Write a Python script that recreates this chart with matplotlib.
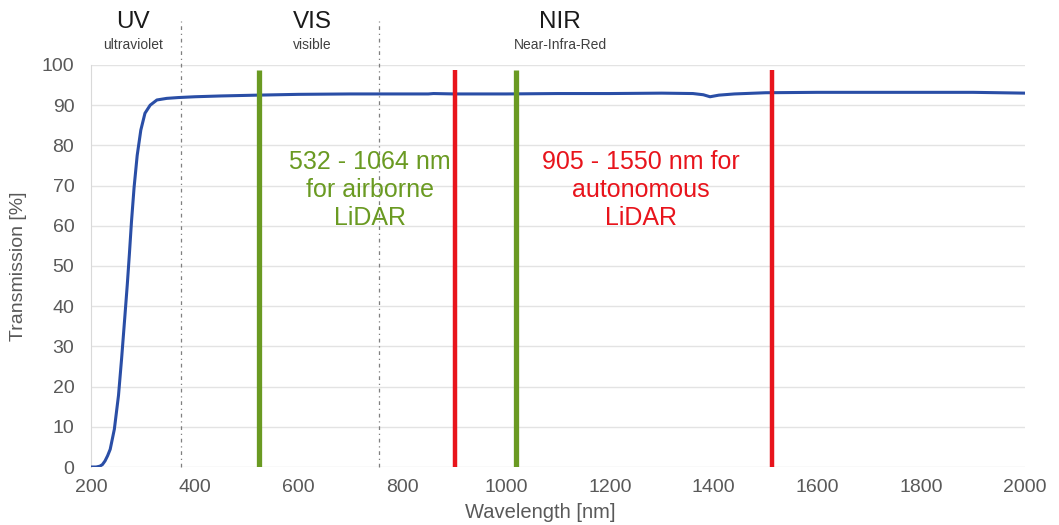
import matplotlib
matplotlib.use("Agg")
import matplotlib.pyplot as plt

plt.rcParams['font.family'] = ['Liberation Sans', 'DejaVu Sans']

# Transmission curve
wavelength = [200, 210, 217, 222, 227, 232, 237, 245, 253, 259, 265, 270, 274, 278, 283, 289,
              296, 304, 314, 327, 346, 368, 400, 450, 520, 600, 700, 800, 850, 860, 900, 1000,
              1100, 1200, 1300, 1360, 1380, 1393, 1410, 1440, 1500, 1600, 1700, 1800, 1900, 2000]
transmission = [0.0, 0.0, 0.2, 0.6, 1.5, 2.8, 4.4, 9.4, 17.8, 27.0, 37.0, 45.5, 53.0, 61.0,
                69.5, 77.5, 83.8, 88.0, 90.0, 91.3, 91.7, 91.9, 92.1, 92.3, 92.5, 92.7, 92.8,
                92.8, 92.8, 92.9, 92.8, 92.8, 92.9, 92.9, 93.0, 92.9, 92.6, 92.1, 92.5, 92.8,
                93.1, 93.2, 93.2, 93.2, 93.2, 93.0]

region_bounds = [373, 755]
green_lines = [523, 1019]
red_lines = [901, 1512]
line_top = 98.8

regions = [("UV", "ultraviolet", 133), ("VIS", "visible", 312), ("NIR", "Near-Infra-Red", 560)]

xticks = [200, 400, 600, 800, 1000, 1200, 1400, 1600, 1800, 2000]
yticks = [0, 10, 20, 30, 40, 50, 60, 70, 80, 90, 100]

fig = plt.figure(figsize=(10.59, 5.25), dpi=100)
ax = fig.add_axes([91/1059, 1-467/525, (1025-91)/1059, (467-65)/525])

ax.set_xlim(200, 2000)
ax.set_ylim(0, 100)
ax.set_xticks(xticks)
ax.set_yticks(yticks)
ax.grid(axis='y', color='#e3e3e3', linewidth=1.0)
ax.set_axisbelow(True)
for s in ['top', 'right', 'bottom']:
    ax.spines[s].set_visible(False)
ax.spines['left'].set_color('#d9d9d9')
ax.tick_params(length=0, labelsize=14, colors='#595959')
ax.tick_params(axis='y', pad=12)
ax.tick_params(axis='x', pad=9)

# dotted region separators
for xb in region_bounds:
    ax.plot([xb, xb], [0, 111], color='#7f7f7f', linestyle=(0, (3, 3, 1, 3)),
            linewidth=0.9, clip_on=False, zorder=1)

ax.plot(wavelength, transmission, color='#2a4ea6', linewidth=2.2, zorder=3)

for xg in green_lines:
    ax.plot([xg, xg], [0, line_top], color='#6a9a22', linewidth=3.8, zorder=4,
            solid_capstyle='butt')
for xr in red_lines:
    ax.plot([xr, xr], [0, line_top], color='#e8141c', linewidth=3.2, zorder=4,
            solid_capstyle='butt')

ax.text(738, 68.9, "532 - 1064 nm\nfor airborne\nLiDAR", color='#6a9a22', fontsize=18,
        ha='center', va='center', linespacing=1.2, zorder=5)
ax.text(1260, 68.9, "905 - 1550 nm for\nautonomous\nLiDAR", color='#e8141c', fontsize=18,
        ha='center', va='center', linespacing=1.2, zorder=5)

for big, small, xp in regions:
    fig.text(xp/1059, 1-22/525, big, fontsize=17.5, ha='center', va='center', color='#1a1a1a')
    fig.text(xp/1059, 1-45/525, small, fontsize=10, ha='center', va='center', color='#404040')

ax.set_ylabel("Transmission [%]", fontsize=14, color='#595959')
ax.yaxis.set_label_coords(-0.068, 0.5)
fig.text(540/1059, 1-513/525, "Wavelength [nm]", fontsize=14.5, ha='center', va='center',
         color='#595959')

fig.savefig("out.png", dpi=100)
